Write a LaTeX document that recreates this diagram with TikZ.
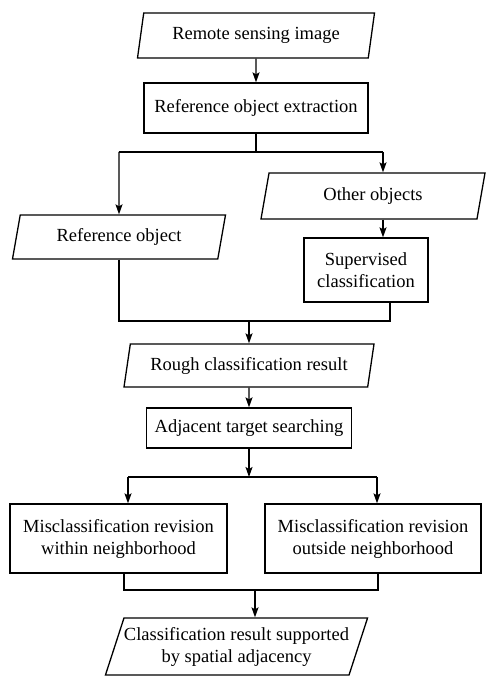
\documentclass[tikz,border=0pt]{standalone}
\usepackage{fontspec}
\setmainfont{Liberation Serif}
\usetikzlibrary{shapes.geometric,arrows.meta}
\begin{document}
\begin{tikzpicture}[x=1pt,y=-1pt,
  every node/.style={font=\fontsize{18.5}{22}\selectfont, align=center, inner sep=0pt},
  boxnode/.style={draw, rectangle, line width=1.3pt},
  paranode/.style={draw, trapezium, trapezium left angle=#1, trapezium right angle={180-#1}, trapezium stretches body, line width=1.3pt},
  flow/.style={line width=1.3pt, -{Stealth[length=10pt,width=7pt,inset=2pt]}},
  link/.style={line width=1.3pt}]
\useasboundingbox (0,0) rectangle (486,676);

\node[paranode=69, minimum width=237, minimum height=45] (img) at (256,35.5) {Remote sensing image};
\node[boxnode, minimum width=224, minimum height=50] (ext) at (256,108) {Reference object extraction};
\node[paranode=65.5, minimum width=213, minimum height=44] (refobj) at (119,237) {Reference object};
\node[paranode=64.4, minimum width=224, minimum height=46] (other) at (373,196) {Other objects};
\node[boxnode, minimum width=124, minimum height=64] (sup) at (366,270) {Supervised\\classification};
\node[paranode=69.6, minimum width=250, minimum height=43] (rough) at (249,365.5) {Rough classification result};
\node[boxnode, minimum width=205, minimum height=40] (adj) at (249,428) {Adjacent target searching};
\node[boxnode, minimum width=217, minimum height=69] (mwin) at (118.5,538.5) {Misclassification revision\\within neighborhood};
\node[boxnode, minimum width=216, minimum height=69] (mout) at (373,538.5) {Misclassification revision\\outside neighborhood};
\node[paranode=64.6, minimum width=253, minimum height=57] (final) at (236.5,646.5) {Classification result supported\\by spatial adjacency};

\coordinate (splitL) at (119,152);
\coordinate (splitR) at (383,152);
\coordinate (mergeL) at (119,321);
\coordinate (mergeR) at (390,321);
\coordinate (mergeC) at (249,321);
\coordinate (splitC) at (249,477);
\coordinate (split2L) at (128,477);
\coordinate (split2R) at (377,477);
\coordinate (merge2L) at (124,590);
\coordinate (merge2R) at (378,590);
\coordinate (merge2C) at (255,590);

\draw[flow] (img.south) -- (ext.north);
\draw[link] (ext.south) -- (ext.south |- splitL);
\draw[link] (splitL) -- (splitR);
\draw[flow] (splitL) -- (refobj.north);
\draw[flow] (splitR) -- (splitR |- other.north);
\draw[flow] (other.south -| splitR) -- (sup.north -| splitR);
\draw[link] (refobj.south -| mergeL) -- (mergeL) -- (mergeR) -- (sup.south -| mergeR);
\draw[flow] (mergeC) -- (mergeC |- rough.north);
\draw[flow] (rough.south) -- (adj.north);
\draw[flow] (adj.south) -- (splitC);
\draw[link] (split2L) -- (split2R);
\draw[flow] (split2L) -- (split2L |- mwin.north);
\draw[flow] (split2R) -- (split2R |- mout.north);
\draw[link] (mwin.south -| merge2L) -- (merge2L) -- (merge2R) -- (mout.south -| merge2R);
\draw[flow] (merge2C) -- (merge2C |- final.north);
\end{tikzpicture}
\end{document}
